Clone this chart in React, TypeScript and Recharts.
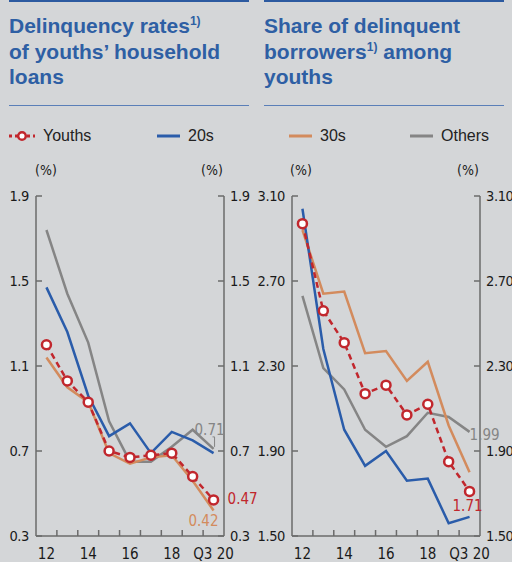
import React from "react";
import { LineChart, Line, XAxis, YAxis } from "recharts";

// x positions: 12..19 are years, 20 is Q3 2020
const years = [12, 13, 14, 15, 16, 17, 18, 19, 20];

// delinquency rates of youths' household loans (%)
const rateYouths = [1.2, 1.03, 0.93, 0.7, 0.67, 0.68, 0.69, 0.58, 0.47];
const rate20s = [1.47, 1.26, 0.96, 0.77, 0.83, 0.69, 0.79, 0.75, 0.69];
const rate30s = [1.14, 1.0, 0.93, 0.69, 0.64, 0.67, 0.68, 0.56, 0.42];
const rateOthers = [1.74, 1.44, 1.21, 0.84, 0.65, 0.65, 0.72, 0.8, 0.71];

// share of delinquent borrowers among youths (%)
const shareYouths = [2.97, 2.56, 2.41, 2.17, 2.21, 2.07, 2.12, 1.85, 1.71];
const share20s = [3.04, 2.38, 2.0, 1.83, 1.9, 1.76, 1.77, 1.56, 1.59];
const share30s = [2.94, 2.64, 2.65, 2.36, 2.37, 2.23, 2.32, 2.02, 1.8];
const shareOthers = [2.63, 2.29, 2.19, 2.0, 1.92, 1.97, 2.08, 2.06, 1.99];

const rateTicks = [0.3, 0.7, 1.1, 1.5, 1.9];
const shareTicks = [1.5, 1.9, 2.3, 2.7, 3.1];
const xLabels = [12, 14, 16, 18, 20];
const xMarks = [12.5, 13.5, 14.5, 15.5, 16.5, 17.5, 18.5, 19.5];

const RED = "#c1272d";
const BLUE = "#2a5caa";
const ORANGE = "#d38b5d";
const GRAY = "#858585";
const AXIS = "#6b6b6b";
const TITLE = "#2e5fa4";
const BG = "#d4d6d8";
const NARROW = "'Liberation Sans Narrow', 'DejaVu Sans Condensed', 'Liberation Sans', Arial, sans-serif";
const SANS = "'Liberation Sans', Arial, Helvetica, sans-serif";

const rateData = years.map((x, i) => ({
  x,
  youths: rateYouths[i],
  s20: rate20s[i],
  s30: rate30s[i],
  others: rateOthers[i],
}));

const shareData = years.map((x, i) => ({
  x,
  youths: shareYouths[i],
  s20: share20s[i],
  s30: share30s[i],
  others: shareOthers[i],
}));

const LeftTick = (props: any) => {
  const { x, y, payload, digits } = props;
  return (
    <g>
      <line x1={x + 8} x2={x + 14} y1={y} y2={y} stroke={AXIS} strokeWidth={1.5} />
      <text x={x + 1} y={y} dy={5} textAnchor="end" fontSize={14.5} letterSpacing={-0.4} fill="#1a1a1a" fontFamily={NARROW}>
        {payload.value.toFixed(digits)}
      </text>
    </g>
  );
};

const RightTick = (props: any) => {
  const { x, y, payload, digits } = props;
  return (
    <g>
      <line x1={x - 14} x2={x - 8} y1={y} y2={y} stroke={AXIS} strokeWidth={1.5} />
      <text x={x - 2} y={y} dy={5} textAnchor="start" fontSize={14.5} letterSpacing={-0.4} fill="#1a1a1a" fontFamily={NARROW}>
        {payload.value.toFixed(digits)}
      </text>
    </g>
  );
};

const XTick = (props: any) => {
  const { x, y, payload } = props;
  const v = payload.value;
  if (v % 1 !== 0) {
    return <line x1={x} x2={x} y1={y - 8} y2={y - 14} stroke={AXIS} strokeWidth={1.5} />;
  }
  return (
    <text x={x} y={y} dy={15} textAnchor="middle" fontSize={15} fill="#1a1a1a" fontFamily={NARROW}>
      {v === 20 ? "Q3 20" : String(v)}
    </text>
  );
};

const endLabel = (text: string, color: string, dx: number, dy: number, anchor: string, leader?: boolean) =>
  (props: any) => {
    const { x, y, index } = props;
    if (index !== years.length - 1) return null;
    return (
      <g>
        {leader && (
          <polyline
            points={`${x - 1},${y - 12} ${x + 1},${y - 12} ${x + 1},${y - 2}`}
            fill="none"
            stroke={color}
            strokeWidth={1}
          />
        )}
        <text x={x + dx} y={y + dy} textAnchor={anchor} fontSize={15} fill={color} fontFamily={NARROW}>
          {text}
        </text>
      </g>
    );
  };

type PanelProps = {
  data: any[];
  domain: [number, number];
  ticks: number[];
  digits: number;
  left: number;
  labels: { key: string; render: any }[];
};

const Panel = ({ data, domain, ticks, digits, left, labels }: PanelProps) => {
  const lab = (k: string) => labels.find((l) => l.key === k)?.render;
  return (
    <div style={{ position: "absolute", left, top: 150 }}>
      <LineChart width={270} height={412} data={data} margin={{ top: 46, right: 14, bottom: 0, left: 0 }}>
        <XAxis
          dataKey="x"
          type="number"
          domain={[11.5, 20.5]}
          ticks={[...xMarks, ...xLabels].sort((a, b) => a - b)}
          interval={0}
          height={26}
          tickLine={false}
          axisLine={{ stroke: AXIS, strokeWidth: 1.5 }}
          tick={<XTick />}
        />
        <YAxis
          yAxisId="left"
          domain={domain}
          ticks={ticks}
          width={36}
          interval={0}
          tickLine={false}
          axisLine={{ stroke: AXIS, strokeWidth: 1.5 }}
          tick={<LeftTick digits={digits} />}
        />
        <YAxis
          yAxisId="right"
          orientation="right"
          domain={domain}
          ticks={ticks}
          width={32}
          interval={0}
          tickLine={false}
          axisLine={{ stroke: AXIS, strokeWidth: 1.5 }}
          tick={<RightTick digits={digits} />}
        />
        <Line
          yAxisId="left"
          dataKey="others"
          stroke={GRAY}
          strokeWidth={2.5}
          dot={false}
          isAnimationActive={false}
          label={lab("others")}
        />
        <Line
          yAxisId="left"
          dataKey="s30"
          stroke={ORANGE}
          strokeWidth={2.5}
          dot={false}
          isAnimationActive={false}
          label={lab("s30")}
        />
        <Line
          yAxisId="left"
          dataKey="s20"
          stroke={BLUE}
          strokeWidth={2.5}
          dot={false}
          isAnimationActive={false}
        />
        <Line
          yAxisId="right"
          dataKey="youths"
          stroke={RED}
          strokeWidth={2.5}
          strokeDasharray="6 4"
          dot={{ r: 4.5, fill: "#fff", stroke: RED, strokeWidth: 2.5, strokeDasharray: "" }}
          isAnimationActive={false}
          label={lab("youths")}
        />
      </LineChart>
    </div>
  );
};

const Title = ({ left, children }: { left: number; children: React.ReactNode }) => (
  <>
    <div style={{ position: "absolute", left, top: 0, width: 240, height: 2, background: "#2c5aa0" }} />
    <div
      style={{
        position: "absolute",
        left,
        top: 13,
        width: 245,
        fontFamily: SANS,
        fontWeight: 700,
        fontSize: 21,
        lineHeight: "25.5px",
        color: TITLE,
      }}
    >
      {children}
    </div>
    <div style={{ position: "absolute", left, top: 104.5, width: 240, height: 1, background: "#5a7fb8" }} />
  </>
);

const Sup = () => <sup style={{ fontSize: 12, verticalAlign: "8px", lineHeight: 0 }}>1)</sup>;

const LegendItem = ({ x, label, color, dotted }: { x: number; label: string; color: string; dotted?: boolean }) => (
  <div style={{ position: "absolute", left: x, top: 126, height: 20, display: "flex", alignItems: "center" }}>
    <svg width={28} height={20} style={{ display: "block" }}>
      {dotted ? (
        <>
          <line x1={0} x2={26} y1={10} y2={10} stroke={color} strokeWidth={3} strokeDasharray="3 3" />
          <circle cx={13} cy={10} r={3.8} fill="#fff" stroke={color} strokeWidth={2.5} />
        </>
      ) : (
        <line x1={0} x2={23} y1={10} y2={10} stroke={color} strokeWidth={3} />
      )}
    </svg>
    <span style={{ fontFamily: SANS, fontSize: 16, color: "#222", marginLeft: dotted ? 6 : 3 }}>{label}</span>
  </div>
);

const Unit = ({ x }: { x: number }) => (
  <div
    style={{
      position: "absolute",
      left: x - 20,
      top: 162,
      width: 40,
      textAlign: "center",
      fontFamily: NARROW,
      fontSize: 14,
      color: "#1a1a1a",
    }}
  >
    (%)
  </div>
);

export default function App() {
  return (
    <div
      style={{
        position: "absolute",
        left: 0,
        top: 0,
        width: 512,
        height: 562,
        background: BG,
        overflow: "hidden",
      }}
    >
      <Title left={9}>
        Delinquency rates<Sup />
        <br />
        of youths’ household
        <br />
        loans
      </Title>
      <Title left={264}>
        Share of delinquent
        <br />
        borrowers<Sup /> among
        <br />
        youths
      </Title>

      <LegendItem x={9} label="Youths" color={RED} dotted />
      <LegendItem x={157} label="20s" color={BLUE} />
      <LegendItem x={289} label="30s" color={ORANGE} />
      <LegendItem x={410} label="Others" color={GRAY} />

      <Unit x={46} />
      <Unit x={212} />
      <Unit x={301} />
      <Unit x={468} />

      <Panel
        data={rateData}
        domain={[0.3, 1.9]}
        ticks={rateTicks}
        digits={1}
        left={0}
        labels={[
          { key: "others", render: endLabel("0.71", GRAY, -4, -14, "middle", true) },
          { key: "s30", render: endLabel("0.42", ORANGE, 5, 15, "end") },
          { key: "youths", render: endLabel("0.47", RED, 14, 4, "start") },
        ]}
      />
      <Panel
        data={shareData}
        domain={[1.5, 3.1]}
        ticks={shareTicks}
        digits={2}
        left={256}
        labels={[
          { key: "others", render: endLabel("1.99", GRAY, 0, 8, "start") },
          { key: "youths", render: endLabel("1.71", RED, -2, 20, "middle") },
        ]}
      />
    </div>
  );
}
